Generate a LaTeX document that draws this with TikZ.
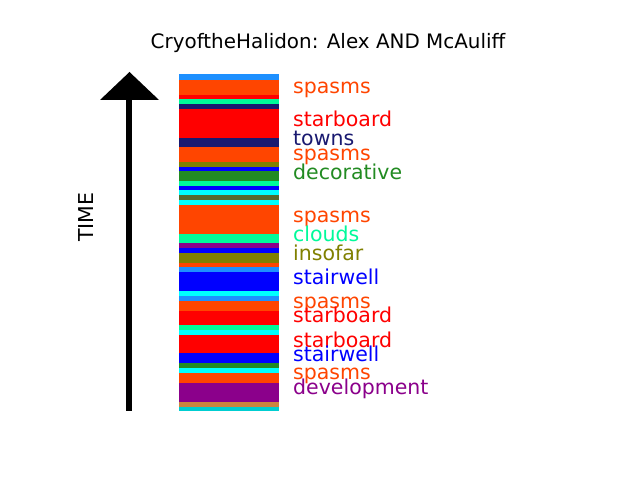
\documentclass[tikz,border=0pt]{standalone}
\usepackage{fontspec}
\setmainfont{DejaVu Sans}
\definecolor{cdodger}{HTML}{1E90FF}
\definecolor{corange}{HTML}{FF4500}
\definecolor{cred}{HTML}{FF0000}
\definecolor{cmsg}{HTML}{00FA9A}
\definecolor{cmid}{HTML}{191970}
\definecolor{colive}{HTML}{808000}
\definecolor{cblue}{HTML}{0000FF}
\definecolor{cforest}{HTML}{228B22}
\definecolor{ccyan}{HTML}{00FFFF}
\definecolor{cdog}{HTML}{556B2F}
\definecolor{cdmag}{HTML}{8B008B}
\definecolor{cperu}{HTML}{CD853F}
\definecolor{cdturq}{HTML}{00CED1}
\tikzset{
  txt/.style={inner sep=0pt, font=\fontsize{20.5bp}{24bp}\selectfont},
  lbl/.style={txt, anchor=base west},
}
\newcommand{\stripe}[3]{\fill[#3] (179,#1) rectangle (279,#2);}
\begin{document}
\begin{tikzpicture}[x=1bp,y=-1bp]
\useasboundingbox (0,0) rectangle (640,480);
\fill[white] (0,0) rectangle (640,480);
% title
\node[inner sep=0pt, font=\fontsize{19.9bp}{24bp}\selectfont, anchor=base] (title) at (328,49) {CryoftheHalidon: Alex AND McAuliff};
% time arrow
\draw[line width=5.5bp] (129,410.5) -- (129,99);
\fill (100,100) -- (159,100) -- (129.5,72) -- cycle;
\node[txt, rotate=90, anchor=base] (time) at (93.5,217) {TIME};
% stripes
\stripe{74}{80}{cdodger}
\stripe{80}{95}{corange}
\stripe{95}{99}{cred}
\stripe{99}{103.7}{cmsg}
\stripe{103.7}{109}{cmid}
\stripe{109}{137.7}{cred}
\stripe{137.7}{146.7}{cmid}
\stripe{146.7}{161.7}{corange}
\stripe{161.7}{166.7}{colive}
\stripe{166.7}{170.7}{cblue}
\stripe{170.7}{181}{cforest}
\stripe{181}{185.7}{cmsg}
\stripe{185.7}{190}{cblue}
\stripe{190}{195}{ccyan}
\stripe{195}{200}{cdog}
\stripe{200}{205}{ccyan}
\stripe{205}{234}{corange}
\stripe{234}{242.7}{cmsg}
\stripe{242.7}{248}{cdmag}
\stripe{248}{252.7}{cblue}
\stripe{252.7}{262.7}{colive}
\stripe{262.7}{266.7}{corange}
\stripe{266.7}{271.7}{cdodger}
\stripe{271.7}{290.7}{cblue}
\stripe{290.7}{296}{ccyan}
\stripe{296}{300.7}{cdodger}
\stripe{300.7}{310.7}{corange}
\stripe{310.7}{325}{cred}
\stripe{325}{330}{cmsg}
\stripe{330}{335}{ccyan}
\stripe{335}{353.3}{cred}
\stripe{353.3}{362.7}{cblue}
\stripe{362.7}{367.7}{cforest}
\stripe{367.7}{372.7}{ccyan}
\stripe{372.7}{382.7}{corange}
\stripe{382.7}{401.7}{cdmag}
\stripe{401.7}{406.7}{cperu}
\stripe{406.7}{410.7}{cdturq}
% labels
\node[lbl, text=corange] (l1) at (293,93.3) {spasms};
\node[lbl, text=cred] (l2) at (293,126.5) {starboard};
\node[lbl, text=cmid] (l3) at (293,145.3) {towns};
\node[lbl, text=corange] (l4) at (293,160.8) {spasms};
\node[lbl, text=cforest] (l5) at (293,179.5) {decorative};
\node[lbl, text=corange] (l6) at (293,222.8) {spasms};
\node[lbl, text=cmsg] (l7) at (293,241.5) {clouds};
\node[lbl, text=colive] (l8) at (293,260.8) {insofar};
\node[lbl, text=cblue] (l9) at (293,284.8) {stairwell};
\node[lbl, text=corange] (l10) at (293,308.1) {spasms};
\node[lbl, text=cred] (l11) at (293,322.8) {starboard};
\node[lbl, text=cred] (l12) at (293,347.5) {starboard};
\node[lbl, text=cblue] (l13) at (293,361.3) {stairwell};
\node[lbl, text=corange] (l14) at (293,379.8) {spasms};
\node[lbl, text=cdmag] (l15) at (293,394.8) {development};
\end{tikzpicture}
\end{document}
